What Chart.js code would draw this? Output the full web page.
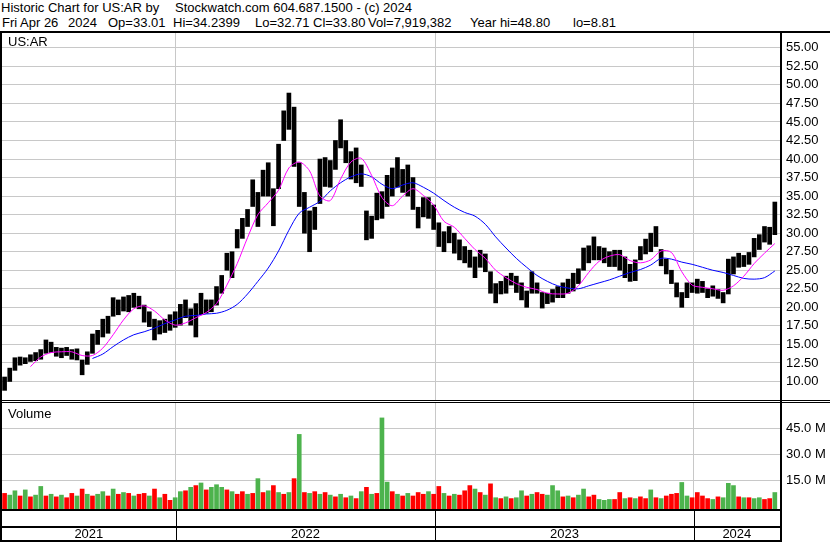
<!DOCTYPE html>
<html>
<head>
<meta charset="utf-8">
<script src="https://cdn.jsdelivr.net/npm/chart.js@4.4.1/dist/chart.umd.min.js"></script>
<style>
body { margin:0; width:830px; height:543px; background:#fff; position:relative; overflow:hidden; font-family:"Liberation Sans", Arial, sans-serif; }
.t { position:absolute; font-size:13px; line-height:15px; white-space:pre; color:#000; }
.ln { position:absolute; background:#000; }
canvas { position:absolute; left:0; }
</style>
</head>
<body>
<div class="t" style="left:1px;top:0px">Historic Chart for US:AR by</div>
<div class="t" style="left:175px;top:0px">Stockwatch.com 604.687.1500 - (c) 2024</div>
<div class="t" style="left:2px;top:15px">Fri Apr 26</div>
<div class="t" style="left:68px;top:15px">2024</div>
<div class="t" style="left:108px;top:15px">Op=33.01</div>
<div class="t" style="left:173px;top:15px">Hi=34.2399</div>
<div class="t" style="left:255px;top:15px">Lo=32.71</div>
<div class="t" style="left:313px;top:15px">Cl=33.80</div>
<div class="t" style="left:368px;top:15px">Vol=7,919,382</div>
<div class="t" style="left:470px;top:15px">Year hi=48.80</div>
<div class="t" style="left:573px;top:15px">lo=8.81</div>

<canvas id="priceChart" width="830" height="367" style="top:33px"></canvas>
<canvas id="volChart" width="830" height="138" style="top:403px"></canvas>

<div class="t" style="left:8px;top:34px">US:AR</div>
<div class="t" style="left:8px;top:406px">Volume</div>

<div class="ln" style="left:0;top:31px;width:830px;height:2px"></div>
<div class="ln" style="left:0;top:31px;width:2px;height:511px"></div>
<div class="ln" style="left:780px;top:31px;width:2px;height:511px"></div>
<div class="ln" style="left:0;top:400px;width:830px;height:1px"></div>
<div class="ln" style="left:0;top:402px;width:830px;height:1px"></div>
<div class="ln" style="left:0;top:509px;width:782px;height:2px"></div>
<div class="ln" style="left:0;top:526px;width:782px;height:2px"></div>
<div class="ln" style="left:0;top:540px;width:782px;height:2px"></div>

<script>
// one bar = 5 trading days, x axis in trading days from late Apr 2021
var daysPerBar = 5;
var xMin = -0.5, xMax = 752;
var yearLabels = ['2021', '2022', '2023', '2024'];
var yearEnds = [167.5, 418.5, 668.5];
var priceTicks = [10, 12.5, 15, 17.5, 20, 22.5, 25, 27.5, 30, 32.5, 35, 37.5, 40, 42.5, 45, 47.5, 50, 52.5, 55];
var volTicks = [15, 30, 45];

var priceLow = [8.8,10.0,11.5,12.2,12.4,12.7,12.8,13.0,13.8,13.9,
    13.4,13.2,13.5,13.0,12.9,10.9,12.3,13.8,15.0,16.0,
    16.5,18.8,19.0,19.5,19.4,20.0,19.8,18.0,17.4,15.6,
    16.4,16.6,16.9,17.3,17.6,18.6,17.6,16.0,19.0,19.2,
    19.4,20.3,21.9,25.0,24.0,28.0,29.3,30.9,33.6,30.9,
    35.0,35.0,31.0,36.0,42.5,44.0,39.0,33.6,30.0,27.5,
    30.5,34.0,36.3,36.2,38.6,41.5,39.5,37.3,36.8,36.3,
    29.1,29.3,31.8,32.0,33.6,35.0,36.2,35.5,35.0,33.2,
    30.7,32.2,32.0,30.5,28.2,27.5,28.7,27.3,26.4,26.0,
    25.4,24.0,25.4,24.8,21.9,20.6,21.8,21.9,23.0,22.0,
    21.0,20.0,21.9,21.9,19.9,20.5,20.7,21.3,21.3,21.9,
    22.2,23.2,25.0,26.0,26.4,26.4,26.0,25.5,25.5,25.0,
    24.0,23.5,23.6,26.4,27.2,27.5,28.2,25.6,24.5,23.2,
    21.4,20.0,21.3,22.0,21.9,22.0,21.3,21.5,21.2,20.6,
    21.8,24.5,25.4,25.5,25.8,26.8,27.8,28.8,28.5,29.8];

var priceHigh = [10.6,11.8,13.2,13.3,13.2,13.6,13.9,14.3,15.6,15.3,
    14.6,14.5,14.6,14.3,14.4,12.9,14.0,16.4,16.9,18.4,
    18.8,21.3,21.0,21.4,21.6,21.9,21.5,20.3,19.4,18.4,
    18.2,18.4,19.0,19.4,20.4,21.0,19.8,20.5,21.9,21.0,
    21.0,22.8,24.3,27.3,27.5,30.5,32.0,33.2,37.2,35.5,
    38.5,39.5,36.0,42.0,46.5,48.9,47.0,39.5,35.5,33.0,
    33.5,40.0,40.2,39.8,42.5,45.3,42.5,41.0,41.5,39.2,
    33.0,32.3,35.4,35.6,37.8,38.8,40.2,38.6,39.2,37.5,
    33.5,34.8,34.8,33.8,31.4,30.2,30.9,30.0,29.1,28.2,
    27.7,26.8,27.7,27.2,24.8,23.2,23.5,24.2,24.6,24.2,
    23.3,22.2,24.8,23.3,22.0,21.9,22.4,22.8,23.3,23.8,
    24.6,25.2,28.0,28.3,29.5,28.2,28.0,27.5,27.7,27.7,
    26.8,25.8,26.4,28.2,29.2,30.0,30.9,27.8,26.5,25.0,
    23.3,22.0,23.3,23.3,23.8,23.5,22.5,22.9,22.4,22.0,
    26.5,26.8,27.3,27.0,27.4,29.3,29.8,30.9,30.8,34.2];

// moving averages, one value every 2nd bar (bars 1,3,5,...)
var maFast = [null,null,12.0,13.3,13.9,14.0,14.0,13.5,13.5,14.5,
    16.3,18.3,19.8,20.2,19.5,18.3,17.6,17.9,18.6,19.3,
    20.5,23.0,25.9,29.4,32.5,34.1,35.8,38.8,39.6,38.4,
    35.0,34.4,37.3,39.6,40.1,37.8,34.8,33.7,35.0,36.0,
    35.1,33.8,31.6,30.8,29.3,27.8,26.6,25.0,24.0,23.2,
    22.7,22.4,21.9,21.8,21.9,22.9,24.7,26.2,26.9,27.1,
    26.3,26.0,26.4,27.6,27.4,24.8,23.0,22.7,22.5,22.3,
    22.9,24.2,25.9,27.3,28.6];

var maSlow = [null,null,null,null,null,null,null,null,13.1,13.7,
    14.7,15.6,16.3,16.7,17.2,17.8,18.3,18.8,18.9,19.1,
    19.2,19.6,20.4,21.8,23.5,25.3,27.6,30.4,32.7,33.5,
    34.3,35.7,36.8,37.6,38.0,37.6,36.6,36.0,36.5,36.8,
    36.2,35.4,34.4,33.5,32.8,32.3,31.2,29.5,28.0,26.6,
    25.4,24.3,23.5,22.9,22.6,22.5,22.9,23.3,23.7,24.2,
    24.7,25.1,25.7,26.6,26.5,26.1,25.8,25.4,25.0,24.7,
    24.3,23.9,23.8,24.0,24.9];

// volume in millions, per bar
var volume = [7.5,6.5,9.0,6.0,9.5,5.5,6.5,11.5,6.0,7.0,
    5.5,6.5,5.0,7.5,6.0,10.0,7.0,6.0,7.0,8.5,
    6.0,10.0,7.0,8.0,7.5,6.0,7.0,7.5,6.0,10.0,
    5.0,7.0,3.5,5.0,8.5,9.0,11.0,12.0,13.5,9.5,
    11.0,12.5,11.0,9.5,8.5,7.0,8.5,7.0,7.5,16.0,
    8.0,9.0,12.0,8.0,7.0,8.0,16.0,41.5,8.0,7.5,
    8.5,7.0,8.0,6.5,5.5,7.0,5.0,6.0,4.5,8.5,
    11.0,7.0,7.5,51.0,14.0,8.5,7.0,6.0,7.5,6.0,
    8.0,7.0,8.5,7.0,11.5,7.5,6.0,7.0,6.5,9.0,
    12.0,10.0,8.0,6.5,13.0,5.0,4.5,5.5,4.5,5.0,
    9.0,6.0,7.0,8.0,7.0,6.5,12.0,9.0,5.5,6.0,
    5.0,6.5,10.0,5.5,6.5,4.0,3.5,4.0,4.0,8.0,
    4.5,5.0,4.5,5.5,4.5,9.5,5.0,4.5,6.0,7.0,
    7.5,13.8,6.0,5.0,8.0,6.0,4.5,4.0,5.5,5.0,
    13.3,12.0,5.5,5.0,5.0,4.5,5.0,4.0,4.5,8.0];

// g = up bar, r = down bar
var volDir = ("rggrgrggrg" + "rgrrgrgrgg" + "rgrgrgrrgr" + "grrggrgrgr" + "gggrgrrgrg" +
    "rgrgrgrgrg" + "rgrgrgrgrg" + "rgrggrgrgr" + "rrgrrgrgrr" + "rgrgrgrgrg" +
    "grgrrgggrg" + "rggrrgggrr" + "grgrrgrgrr" + "rggrrrrgrg" + "ggrgrggrrg").split('');

Chart.defaults.font.family = '"Liberation Sans", Arial, sans-serif';
Chart.defaults.font.size = 13;
Chart.defaults.color = '#000';

var gridColor = '#c8c8c8';
var volMin = -1.5;

function barDay(k) { return k * daysPerBar + 2; }

var pricePts = priceLow.map(function(lo, k) { return { x: barDay(k), y: [lo, priceHigh[k]] }; });
var fastPts = maFast.map(function(v, i) { return { x: barDay(2 * i + 1), y: v }; });
var slowPts = maSlow.map(function(v, i) { return { x: barDay(2 * i + 1), y: v }; });
var volPts = volume.map(function(v, k) { return { x: barDay(k), y: v }; });

var bounds = [xMin].concat(yearEnds).concat([xMax]);
var yearCenters = yearLabels.map(function(l, i) { return (bounds[i] + bounds[i + 1]) / 2; });

function yearGrid(s) { s.ticks = yearEnds.map(function(v) { return { value: v }; }); }
// labels must not shrink the plot area
function noPad(s) { s.paddingTop = 0; s.paddingBottom = 0; s.paddingLeft = 0; s.paddingRight = 0; }

new Chart(document.getElementById('priceChart'), {
    type: 'bar',
    data: {
        datasets: [{
            type: 'line', data: fastPts, borderColor: '#ff00ff', borderWidth: 1,
            pointRadius: 0, tension: 0.3, order: 0
        }, {
            type: 'line', data: slowPts, borderColor: '#0000ff', borderWidth: 1,
            pointRadius: 0, tension: 0.3, order: 0
        }, {
            type: 'bar', data: pricePts, backgroundColor: '#000',
            barThickness: 4, order: 1
        }]
    },
    options: {
        responsive: false,
        animation: false,
        devicePixelRatio: 1,
        layout: { padding: { left: 2, right: 0, top: 0, bottom: 0 } },
        plugins: { legend: { display: false }, tooltip: { enabled: false } },
        scales: {
            x: {
                type: 'linear', min: xMin, max: xMax, offset: false,
                grid: { color: gridColor, drawTicks: false, offset: false },
                border: { display: false },
                ticks: { display: false },
                afterBuildTicks: yearGrid,
                afterFit: function(s) { s.height = 0; noPad(s); }
            },
            y: {
                position: 'right', min: 7.5, max: 57,
                grid: { color: gridColor, drawTicks: false },
                border: { display: false },
                ticks: { padding: 6, callback: function(v) { return v.toFixed(2); } },
                afterBuildTicks: function(s) { s.ticks = priceTicks.map(function(v) { return { value: v }; }); },
                afterFit: function(s) { s.width = 50; noPad(s); }
            }
        }
    }
});

// black dividers between the year cells under the volume panel
var yearDividers = {
    id: 'yearDividers',
    afterDraw: function(chart) {
        var ctx = chart.ctx, xs = chart.scales.x, a = chart.chartArea;
        ctx.save();
        ctx.fillStyle = '#000';
        yearEnds.forEach(function(v) {
            var px = Math.round(xs.getPixelForValue(v));
            ctx.fillRect(px, a.bottom, 1, chart.height - a.bottom);
        });
        ctx.restore();
    }
};

new Chart(document.getElementById('volChart'), {
    type: 'bar',
    data: {
        datasets: [{
            data: volPts,
            backgroundColor: volDir.map(function(d) { return d === 'g' ? '#4db34d' : '#ff0000'; }),
            barThickness: 4,
            base: volMin
        }]
    },
    options: {
        responsive: false,
        animation: false,
        devicePixelRatio: 1,
        layout: { padding: { left: 2, right: 0, top: 0, bottom: 0 } },
        plugins: { legend: { display: false }, tooltip: { enabled: false } },
        scales: {
            x: {
                type: 'linear', min: xMin, max: xMax, offset: false,
                grid: { color: gridColor, drawTicks: false, offset: false },
                border: { display: false },
                ticks: { display: false },
                afterBuildTicks: yearGrid,
                afterFit: function(s) { s.height = 0; noPad(s); }
            },
            years: {
                type: 'linear', position: 'bottom', axis: 'x', min: xMin, max: xMax, offset: false,
                grid: { display: false, drawTicks: false, offset: false },
                border: { display: false },
                ticks: {
                    padding: 18, maxRotation: 0, autoSkip: false,
                    callback: function(v, i) { return yearLabels[i]; }
                },
                afterBuildTicks: function(s) { s.ticks = yearCenters.map(function(v) { return { value: v }; }); },
                afterFit: function(s) { s.height = 32; noPad(s); }
            },
            y: {
                position: 'right', min: volMin, max: 59.6,
                grid: { color: gridColor, drawTicks: false },
                border: { display: false },
                ticks: { padding: 6, callback: function(v) { return v.toFixed(1) + ' M'; } },
                afterBuildTicks: function(s) { s.ticks = volTicks.map(function(v) { return { value: v }; }); },
                afterFit: function(s) { s.width = 50; noPad(s); }
            }
        }
    },
    plugins: [yearDividers]
});
</script>
</body>
</html>
